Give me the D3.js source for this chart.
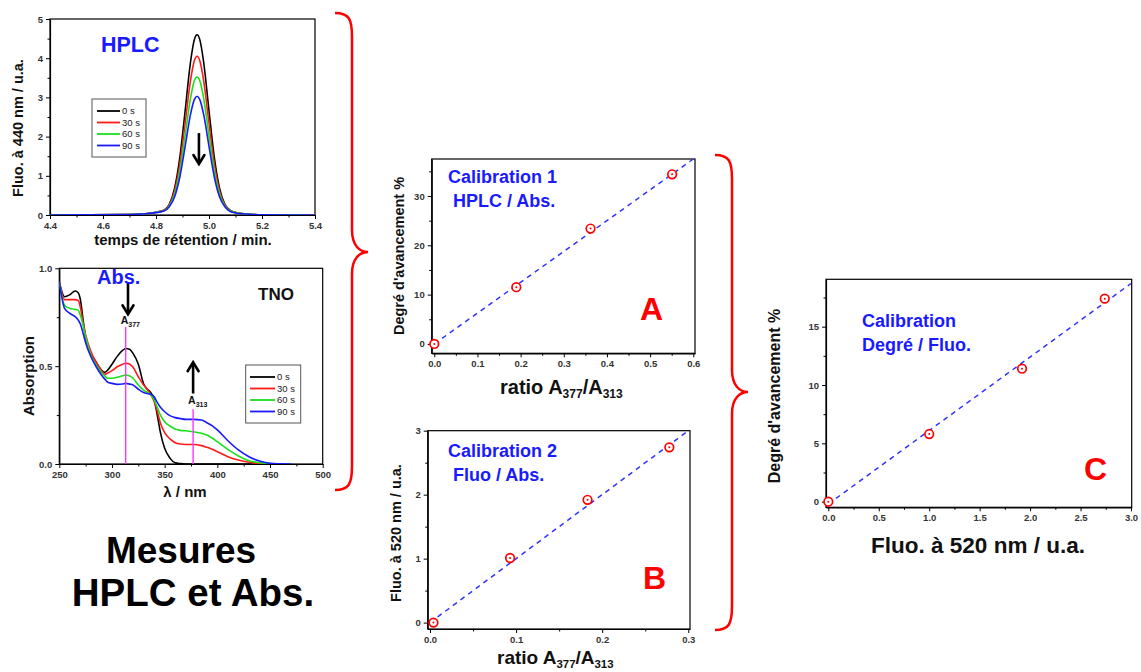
<!DOCTYPE html>
<html><head><meta charset="utf-8">
<script src="https://cdn.jsdelivr.net/npm/d3@7"></script>
<style>
html,body{margin:0;padding:0;background:#fff;}
svg{display:block;font-family:Arial,"Liberation Sans",sans-serif;}
.tick text{font-size:9.5px;font-weight:bold;fill:#333;}
.domain{stroke:#000;}
</style></head>
<body>
<svg id="c" width="1141" height="672"></svg>
<script>
// ---------------- DATA ----------------
const seriesNames = ["0 s","30 s","60 s","90 s"];
const seriesColors = ["#000000","#ff1a1a","#19e019","#1a1aff"];

// HPLC chromatograms (retention time / min, fluorescence at 440 nm)
const hplcTime = [4.40,4.70,4.76,4.80,4.83,4.85,4.87,4.89,4.91,4.93,4.945,4.955,4.965,4.98,5.00,5.02,5.04,5.06,5.08,5.11,5.15,5.20,5.40];
const hplc0s  = [0,0.01,0.03,0.07,0.12,0.27,0.68,1.47,2.66,3.89,4.48,4.60,4.48,3.89,2.66,1.47,0.68,0.27,0.12,0.05,0.02,0.005,0];
const hplc30s = [0,0.01,0.03,0.07,0.12,0.25,0.61,1.30,2.34,3.42,3.94,4.05,3.94,3.42,2.34,1.30,0.61,0.25,0.11,0.05,0.02,0.005,0];
const hplc60s = [0,0.01,0.03,0.07,0.11,0.23,0.53,1.13,2.03,2.97,3.43,3.52,3.43,2.97,2.03,1.13,0.53,0.23,0.10,0.05,0.02,0.005,0];
const hplc90s = [0,0.01,0.03,0.06,0.10,0.21,0.46,0.97,1.75,2.56,2.95,3.03,2.95,2.56,1.75,0.97,0.46,0.21,0.09,0.04,0.02,0.005,0];

// Absorption spectra (wavelength / nm)
const absWl  = [250,255,260,265,268,270,273,275,280,285,290,293,296,300,305,310,313,317,320,325,330,333,336,340,343,346,350,355,360,365,370,377,385,390,395,400,410,420,430,440,450,460,470];
const abs0s  = [0.93,0.855,0.865,0.884,0.875,0.84,0.72,0.65,0.565,0.52,0.48,0.468,0.48,0.51,0.55,0.58,0.59,0.585,0.565,0.51,0.41,0.385,0.37,0.33,0.25,0.16,0.08,0.03,0.006,0.002,0,0,0,0,0,0,0,0,0,0,0,0,0];
const abs30s = [0.93,0.84,0.84,0.84,0.835,0.80,0.71,0.66,0.575,0.52,0.477,0.458,0.465,0.477,0.497,0.51,0.515,0.51,0.494,0.446,0.404,0.385,0.362,0.32,0.27,0.208,0.16,0.128,0.109,0.102,0.10,0.10,0.094,0.085,0.075,0.063,0.037,0.02,0.009,0.003,0,0,0];
const abs60s = [0.93,0.81,0.795,0.79,0.785,0.76,0.70,0.65,0.557,0.506,0.467,0.45,0.438,0.438,0.443,0.451,0.455,0.45,0.438,0.404,0.378,0.368,0.358,0.327,0.29,0.25,0.216,0.194,0.179,0.172,0.17,0.165,0.157,0.148,0.133,0.114,0.075,0.041,0.017,0.007,0.002,0,0];
const abs90s = [0.93,0.795,0.77,0.753,0.735,0.715,0.66,0.62,0.548,0.497,0.455,0.435,0.418,0.412,0.407,0.409,0.412,0.408,0.404,0.382,0.365,0.36,0.358,0.344,0.315,0.29,0.267,0.247,0.237,0.232,0.228,0.228,0.225,0.211,0.196,0.174,0.119,0.072,0.037,0.015,0.003,0.001,0];
const markWl   = [313, 377];
const markTop  = [0.70, 0.28];
const markSub  = ["377", "313"];

// Calibration 1 : ratio A377/A313 vs degré d'avancement %
const cal1Ratio = [0.0, 0.19, 0.362, 0.551];
const cal1Degre = [0.0, 11.5, 23.4, 34.4];
const cal1FitX = [0.0, 0.6];
const cal1FitY = [0.0, 37.5];

// Calibration 2 : ratio A377/A313 vs Fluo 520 nm
const cal2Ratio = [0.004, 0.093, 0.183, 0.278];
const cal2Fluo  = [0.0, 1.01, 1.92, 2.74];
const cal2FitX = [0.0, 0.3];
const cal2FitY = [0.0, 3.0];

// Calibration C : Fluo 520 nm vs degré d'avancement %
const calCFluo  = [0.0, 1.0, 1.92, 2.74];
const calCDegre = [0.0, 5.8, 11.4, 17.4];
const calCFitX = [0.0, 3.0];
const calCFitY = [-0.2, 18.7];

// ---------------- DRAWING ----------------
const svg = d3.select("#c");
svg.append("rect").attr("width",1141).attr("height",672).attr("fill","#fff");
const BLUE = "#1a1aff", RED = "#ff0000";

function panel(o){
  const g = svg.append("g");
  const x = d3.scaleLinear().domain(o.xd).range([o.x0,o.x1]);
  const y = d3.scaleLinear().domain(o.yd).range([o.y1,o.y0]);
  const ax = g.append("g").attr("transform",`translate(0,${o.y1})`);
  ax.call(d3.axisBottom(x).tickValues(o.xt).tickFormat(d3.format(o.xf)).tickSize(4).tickSizeOuter(0));
  ax.append("g").call(d3.axisBottom(x).tickValues(o.xm).tickFormat("").tickSize(2.5)).select(".domain").remove();
  const ay = g.append("g").attr("transform",`translate(${o.x0},0)`);
  ay.call(d3.axisLeft(y).tickValues(o.yt).tickFormat(d3.format(o.yf)).tickSize(4).tickSizeOuter(0));
  ay.append("g").call(d3.axisLeft(y).tickValues(o.ym).tickFormat("").tickSize(2.5)).select(".domain").remove();
  g.selectAll(".domain").attr("stroke-width",1.2);
  g.selectAll(".tick line").attr("stroke","#000");
  g.append("rect").attr("x",o.x0).attr("y",o.y0).attr("width",o.x1-o.x0).attr("height",o.y1-o.y0)
    .attr("fill","none").attr("stroke","#000").attr("stroke-width",1.2);
  const clipId = "clip"+Math.round(o.x0)+"_"+Math.round(o.y0);
  svg.append("clipPath").attr("id",clipId).append("rect")
    .attr("x",o.x0).attr("y",o.y0).attr("width",o.x1-o.x0).attr("height",o.y1-o.y0);
  const plot = g.append("g").attr("clip-path",`url(#${clipId})`);
  return {g,x,y,plot};
}
function rng(a,b,s){const r=[];for(let v=a;v<=b+1e-9;v+=s)r.push(+v.toFixed(4));return r;}

function arrow(g, x1,y1,x2,y2){
  const ang = Math.atan2(y2-y1,x2-x1), L=9, W=5.5;
  const bx = x2 - L*Math.cos(ang), by = y2 - L*Math.sin(ang);
  g.append("line").attr("x1",x1).attr("y1",y1).attr("x2",x2-1.5*Math.cos(ang)).attr("y2",y2-1.5*Math.sin(ang))
    .attr("stroke","#000").attr("stroke-width",2.6);
  g.append("path").attr("d",`M${bx+W*Math.sin(ang)},${by-W*Math.cos(ang)}L${x2},${y2}L${bx-W*Math.sin(ang)},${by+W*Math.cos(ang)}`)
    .attr("stroke","#000").attr("stroke-width",2.6).attr("fill","none").attr("stroke-linecap","round").attr("stroke-linejoin","miter");
}

function legend(g, bx, by, bw, bh, lx0, lx1, tx, rows){
  g.append("rect").attr("x",bx).attr("y",by).attr("width",bw).attr("height",bh)
    .attr("fill","#fff").attr("stroke","#555").attr("stroke-width",1);
  seriesNames.forEach((n,i)=>{
    g.append("line").attr("x1",lx0).attr("x2",lx1).attr("y1",rows[i]).attr("y2",rows[i])
      .attr("stroke",seriesColors[i]).attr("stroke-width",1.8);
    g.append("text").attr("x",tx).attr("y",rows[i]).attr("dy","0.35em")
      .attr("font-size",9.5).attr("fill","#222").text(n);
  });
}

// ---- HPLC panel ----
{
  const p = panel({x0:50,x1:315,y0:19,y1:215,xd:[4.4,5.4],yd:[0,5],
    xt:rng(4.4,5.4,0.2),xm:rng(4.5,5.3,0.2),yt:rng(0,5,1),ym:rng(0.5,4.5,1),xf:".1f",yf:"d"});
  const line = d3.line().x(d=>p.x(d[0])).y(d=>p.y(d[1])).curve(d3.curveMonotoneX);
  [hplc0s,hplc30s,hplc60s,hplc90s].forEach((s,i)=>{
    p.plot.append("path").attr("d",line(hplcTime.map((t,j)=>[t,s[j]])))
      .attr("fill","none").attr("stroke",seriesColors[i]).attr("stroke-width",1.6);
  });
  legend(p.g, 92,99,54,58, 97,120,122,[111,122.5,134,145.5]);
  arrow(p.g, p.x(4.962), p.y(2.09), p.x(4.962), p.y(1.30));
  p.g.append("text").attr("x",101).attr("y",52).attr("font-size",21.5).attr("font-weight","bold")
    .attr("fill",BLUE).text("HPLC");
  p.g.append("text").attr("transform","translate(23,128) rotate(-90)").attr("text-anchor","middle")
    .attr("font-size",14.5).attr("font-weight","bold").attr("fill","#111").text("Fluo. à 440 nm / u.a.");
  p.g.append("text").attr("x",183).attr("y",245).attr("text-anchor","middle")
    .attr("font-size",15).attr("font-weight","bold").attr("fill","#111").text("temps de rétention / min.");
}

// ---- Absorption panel ----
{
  const p = panel({x0:59.3,x1:322.7,y0:268.3,y1:464,xd:[250,500],yd:[0,1],
    xt:rng(250,500,50),xm:rng(275,475,50),yt:[0,0.5,1.0],ym:[0.25,0.75],xf:"d",yf:".1f"});
  const line = d3.line().x(d=>p.x(d[0])).y(d=>p.y(d[1])).curve(d3.curveMonotoneX);
  [abs0s,abs30s,abs60s,abs90s].forEach((s,i)=>{
    p.plot.append("path").attr("d",line(absWl.map((w,j)=>[w,s[j]])))
      .attr("fill","none").attr("stroke",seriesColors[i]).attr("stroke-width",1.6);
  });
  markWl.forEach((w,i)=>{
    p.g.append("line").attr("x1",p.x(w)).attr("x2",p.x(w)).attr("y1",p.y(0)).attr("y2",p.y(markTop[i]))
      .attr("stroke","#ff33ff").attr("stroke-width",1.4);
  });
  const lab = (x,y,sub)=>{
    const t = p.g.append("text").attr("x",x).attr("y",y).attr("font-size",10.5).attr("font-weight","bold").attr("fill","#111");
    t.append("tspan").text("A");
    t.append("tspan").attr("dy",3).attr("font-size",7).text(sub);
  };
  lab(p.x(markWl[0])-5, p.y(markTop[0])-3, markSub[0]);
  lab(p.x(markWl[1])-5, p.y(markTop[1])-5, markSub[1]);
  arrow(p.g, p.x(315.2), p.y(0.93), p.x(315.2), p.y(0.765));
  arrow(p.g, p.x(377), p.y(0.36), p.x(377), p.y(0.52));
  legend(p.g, 245.7,365,55,58, 250,275,277,[377,388.5,400,411.5]);
  p.g.append("text").attr("x",97).attr("y",284).attr("font-size",20).attr("font-weight","bold")
    .attr("fill",BLUE).text("Abs.");
  p.g.append("text").attr("x",258).attr("y",300).attr("font-size",17).attr("font-weight","bold")
    .attr("fill","#111").text("TNO");
  p.g.append("text").attr("transform","translate(34,376) rotate(-90)").attr("text-anchor","middle")
    .attr("font-size",15).attr("font-weight","bold").attr("fill","#111").text("Absorption");
  p.g.append("text").attr("x",185).attr("y",497).attr("text-anchor","middle")
    .attr("font-size",15).attr("font-weight","bold").attr("fill","#111").text("λ / nm");
}

function marker(g, x, y){
  g.append("circle").attr("cx",x).attr("cy",y).attr("r",4.3).attr("fill","#fff").attr("stroke",RED).attr("stroke-width",1.7);
  g.append("circle").attr("cx",x).attr("cy",y).attr("r",1).attr("fill",RED);
}
function calPanel(o, xs, ys, fx, fy){
  const p = panel(o);
  p.plot.append("line").attr("x1",p.x(fx[0])).attr("y1",p.y(fy[0])).attr("x2",p.x(fx[1])).attr("y2",p.y(fy[1]))
    .attr("stroke","#3333ff").attr("stroke-width",1.5).attr("stroke-dasharray","5,4.5");
  xs.forEach((v,i)=>marker(p.g, p.x(v), p.y(ys[i])));
  return p;
}
function ratioLabel(g, x, y, fs){
  const t = g.append("text").attr("x",x).attr("y",y).attr("font-size",fs).attr("font-weight","bold").attr("fill","#111");
  t.append("tspan").text("ratio A");
  t.append("tspan").attr("dy",3.5).attr("font-size",fs*0.6).text("377");
  t.append("tspan").attr("dy",-3.5).text("/A");
  t.append("tspan").attr("dy",3.5).attr("font-size",fs*0.6).text("313");
}

// ---- Calibration 1 (A) ----
{
  const p = calPanel({x0:431.7,x1:695,y0:159,y1:353.3,xd:[-0.006,0.604],yd:[-1.9,37.5],
    xt:rng(0,0.6,0.1),xm:rng(0.05,0.55,0.1),yt:[0,10,20,30],ym:[5,15,25,35],xf:".1f",yf:"d"},
    cal1Ratio, cal1Degre, cal1FitX, cal1FitY);
  p.g.append("text").attr("x",448).attr("y",183).attr("font-size",18).attr("font-weight","bold").attr("fill",BLUE).text("Calibration 1");
  p.g.append("text").attr("x",453).attr("y",207).attr("font-size",18).attr("font-weight","bold").attr("fill",BLUE).text("HPLC / Abs.");
  p.g.append("text").attr("x",640).attr("y",320).attr("font-size",32).attr("font-weight","bold").attr("fill",RED).text("A");
  p.g.append("text").attr("transform","translate(404,256) rotate(-90)").attr("text-anchor","middle")
    .attr("font-size",14.5).attr("font-weight","bold").attr("fill","#111").text("Degré d'avancement %");
  ratioLabel(p.g, 500, 394, 20);
}

// ---- Calibration 2 (B) ----
{
  const p = calPanel({x0:427.7,x1:690,y0:430.7,y1:629,xd:[-0.0027,0.302],yd:[-0.1,3.0],
    xt:[0,0.1,0.2,0.3],xm:[0.05,0.15,0.25],yt:[0,1,2,3],ym:[0.5,1.5,2.5],xf:".1f",yf:"d"},
    cal2Ratio, cal2Fluo, cal2FitX, cal2FitY);
  p.g.append("text").attr("x",448).attr("y",457).attr("font-size",18).attr("font-weight","bold").attr("fill",BLUE).text("Calibration 2");
  p.g.append("text").attr("x",453).attr("y",481).attr("font-size",18).attr("font-weight","bold").attr("fill",BLUE).text("Fluo / Abs.");
  p.g.append("text").attr("x",643).attr("y",589).attr("font-size",32).attr("font-weight","bold").attr("fill",RED).text("B");
  p.g.append("text").attr("transform","translate(401,533) rotate(-90)").attr("text-anchor","middle")
    .attr("font-size",14.5).attr("font-weight","bold").attr("fill","#111").text("Fluo. à 520 nm / u.a.");
  ratioLabel(p.g, 497, 664, 19);
}

// ---- Calibration C ----
{
  const p = calPanel({x0:826,x1:1131.7,y0:279.3,y1:507.3,xd:[-0.023,3.007],yd:[-0.48,19.06],
    xt:rng(0,3,0.5),xm:rng(0.25,2.75,0.5),yt:[0,5,10,15],ym:[2.5,7.5,12.5,17.5],xf:".1f",yf:"d"},
    calCFluo, calCDegre, calCFitX, calCFitY);
  p.g.append("text").attr("x",862).attr("y",327).attr("font-size",18).attr("font-weight","bold").attr("fill",BLUE).text("Calibration");
  p.g.append("text").attr("x",862).attr("y",351).attr("font-size",18).attr("font-weight","bold").attr("fill",BLUE).text("Degré / Fluo.");
  p.g.append("text").attr("x",1084).attr("y",480).attr("font-size",32).attr("font-weight","bold").attr("fill",RED).text("C");
  p.g.append("text").attr("transform","translate(780,396) rotate(-90)").attr("text-anchor","middle")
    .attr("font-size",16).attr("font-weight","bold").attr("fill","#111").text("Degré d'avancement %");
  p.g.append("text").attr("x",978).attr("y",553).attr("text-anchor","middle")
    .attr("font-size",22.5).attr("font-weight","bold").attr("fill","#111").text("Fluo. à 520 nm / u.a.");
}

// ---- Braces ----
function brace(xe, xs, xt, yt, ym, yb){
  const d = `M${xe},${yt} C${xs-3},${yt} ${xs},${yt+6} ${xs},${yt+24}
    L${xs},${ym-22} C${xs},${ym-6} ${xt-8},${ym} ${xt},${ym}
    C${xt-8},${ym} ${xs},${ym+6} ${xs},${ym+22}
    L${xs},${yb-24} C${xs},${yb-6} ${xs-3},${yb} ${xe},${yb}`;
  svg.append("path").attr("d",d).attr("fill","none").attr("stroke","#ff0000").attr("stroke-width",2.5);
}
brace(335,352,368,13,252,490);
brace(715,732,748,155,392,630);

// ---- Bottom-left caption ----
svg.append("text").attr("x",181).attr("y",563).attr("text-anchor","middle")
  .attr("font-size",37).attr("font-weight","bold").attr("fill","#000").text("Mesures");
svg.append("text").attr("x",193).attr("y",606).attr("text-anchor","middle")
  .attr("font-size",38.5).attr("font-weight","bold").attr("fill","#000").text("HPLC et Abs.");
</script>
</body></html>
